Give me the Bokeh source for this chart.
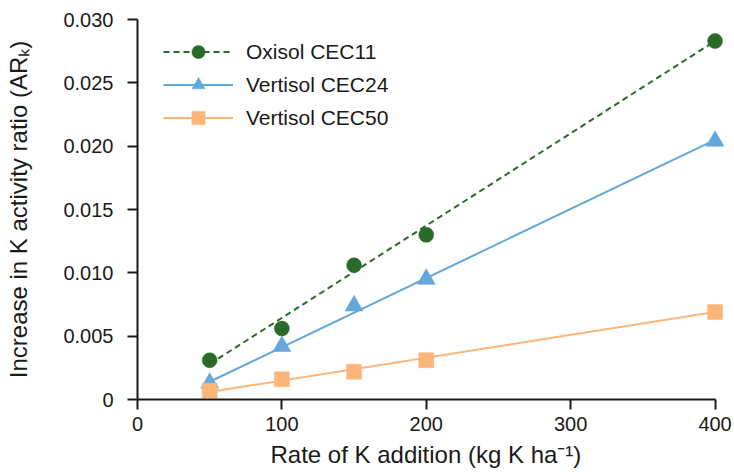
from bokeh.plotting import figure
from bokeh.models import Range1d, FixedTicker, Legend, LegendItem, Title
from bokeh.embed import file_html
from bokeh.resources import INLINE

# ---- data ----
rates = [50, 100, 150, 200, 400]
oxisol_cec11 = [0.0031, 0.0056, 0.0106, 0.0130, 0.0283]
vertisol_cec24 = [0.0013, 0.0042, 0.0074, 0.0095, 0.0204]
vertisol_cec50 = [0.0007, 0.0016, 0.0022, 0.0031, 0.0069]

fit_x = [50, 400]
fit_oxisol_cec11 = [0.0028, 0.0283]
fit_vertisol_cec24 = [0.0014, 0.0205]
fit_vertisol_cec50 = [0.0006, 0.0069]

series_names = ["Oxisol CEC11", "Vertisol CEC24", "Vertisol CEC50"]
x_ticks = [0, 100, 200, 300, 400]
y_ticks = [0, 0.005, 0.010, 0.015, 0.020, 0.025, 0.030]
y_tick_labels = ["0", "0.005", "0.010", "0.015", "0.020", "0.025", "0.030"]
x_title = "Rate of K addition (kg K ha\u207b\u00b9)"
y_title = "Increase in K activity ratio (AR\u2096)"

FONT = "Liberation Sans"
TEXT = "#1a1a1a"

p = figure(width=734, height=472, output_backend="svg", toolbar_location=None,
           x_range=Range1d(0, 410), y_range=Range1d(0, 0.030),
           min_border_left=137, min_border_right=5, min_border_top=19,
           min_border_bottom=73)
p.outline_line_color = None
p.grid.visible = False
p.background_fill_color = "white"
p.border_fill_color = "white"

styles = [
    dict(color="#2a6b29", marker="circle", size=15, dash="6 4"),
    dict(color="#64a7da", marker="triangle", size=18, dash="solid"),
    dict(color="#fdb57a", marker="square", size=15, dash="solid"),
]
values = [oxisol_cec11, vertisol_cec24, vertisol_cec50]
fits = [fit_oxisol_cec11, fit_vertisol_cec24, fit_vertisol_cec50]

items = []
for name, vals, fit, st in zip(series_names, values, fits, styles):
    ln = p.line(fit_x, fit, line_color=st["color"], line_width=2, line_dash=st["dash"])
    sc = p.scatter(rates, vals, marker=st["marker"], size=st["size"],
                   fill_color=st["color"], line_color=st["color"], line_width=0.5)
    items.append(LegendItem(label=name, renderers=[ln, sc]))

legend = Legend(items=items, location=(26, 265), glyph_width=70, glyph_height=33,
                label_height=33, spacing=0, padding=0, margin=0, label_standoff=13,
                border_line_alpha=0, background_fill_alpha=0,
                label_text_font=FONT, label_text_font_size="21px",
                label_text_color=TEXT)
p.add_layout(legend, "center")

for ax in (p.xaxis[0], p.yaxis[0]):
    ax.axis_line_width = 2
    ax.axis_line_color = TEXT
    ax.major_tick_line_width = 2
    ax.major_tick_line_color = TEXT
    ax.major_tick_out = 10
    ax.major_tick_in = 0
    ax.minor_tick_line_color = None
    ax.major_label_text_font = FONT
    ax.major_label_text_color = TEXT
    ax.major_label_text_font_size = "20px"
    ax.axis_label_text_font = FONT
    ax.axis_label_text_font_style = "normal"
    ax.axis_label_text_color = TEXT
    ax.axis_label_text_font_size = "24px"

p.xaxis[0].bounds = (0, 400)
p.xaxis[0].ticker = FixedTicker(ticks=x_ticks)
p.xaxis[0].major_label_standoff = 7

p.yaxis[0].ticker = FixedTicker(ticks=y_ticks)
p.yaxis[0].major_label_overrides = {t: s for t, s in zip(y_ticks, y_tick_labels)}
p.yaxis[0].major_label_standoff = 14
p.yaxis[0].axis_label = y_title
p.yaxis[0].axis_label_standoff = 28

x_label = Title(text=x_title, align="left", offset=133, standoff=10,
                text_font=FONT, text_font_size="24px", text_font_style="normal",
                text_color=TEXT)
p.add_layout(x_label, "below")

open("out.html", "w").write(file_html(p, INLINE))
